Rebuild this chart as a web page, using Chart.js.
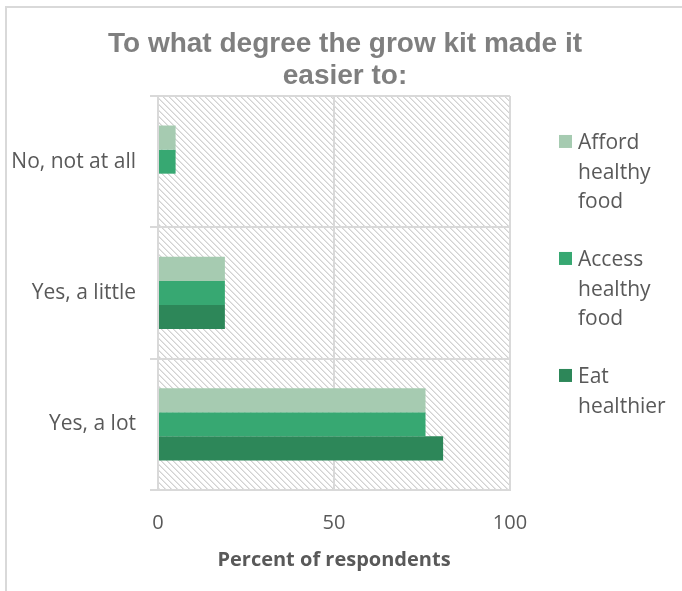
<!DOCTYPE html>
<html>
<head>
<meta charset="utf-8">
<script src="https://cdn.jsdelivr.net/npm/chart.js@4.4.1/dist/chart.umd.min.js"></script>
<style>
  html, body { margin: 0; padding: 0; background: #ffffff; }
  #frame {
    position: absolute; left: 5px; top: 6px; width: 700px; height: 600px;
    border-top: 2px solid #d9d9d9; border-left: 2px solid #d9d9d9;
  }
  #wrap { position: absolute; left: 0; top: 0; width: 682px; height: 591px; }
</style>
</head>
<body>
<div id="frame"></div>
<div id="wrap"><canvas id="growKitChart" width="682" height="591"></canvas></div>
<script>
// Survey answers -------------------------------------------------------------
const categories = ['No, not at all', 'Yes, a little', 'Yes, a lot'];
const affordHealthyFood = [5, 19, 76];
const accessHealthyFood = [5, 19, 76];
const eatHealthier = [0, 19, 81];
const seriesNames = [['Afford', 'healthy', 'food'], ['Access', 'healthy', 'food'], ['Eat', 'healthier']];
const xTicks = [0, 50, 100];

const colors = ['#a6cbb1', '#37a872', '#2d8759'];
const textGrey = '#595959';
const gridGrey = '#d9d9d9';

// Diagonal hatch for the plot background
function makeHatch() {
    var tile = document.createElement('canvas');
    tile.width = 6;
    tile.height = 6;
    var t = tile.getContext('2d');
    t.fillStyle = '#ffffff';
    t.fillRect(0, 0, 6, 6);
    for (var y = 0; y < 6; y++) {
        for (var x = 0; x < 6; x++) {
            var d = ((x - y) % 6 + 6) % 6;
            if (d === 0) { t.fillStyle = '#d2d2d2'; t.fillRect(x, y, 1, 1); }
            if (d === 1) { t.fillStyle = '#e6e6e6'; t.fillRect(x, y, 1, 1); }
        }
    }
    return tile;
}

const hatchBackground = {
    id: 'hatchBackground',
    beforeDraw(chart) {
        const a = chart.chartArea;
        const ctx = chart.ctx;
        ctx.save();
        ctx.fillStyle = ctx.createPattern(makeHatch(), 'repeat');
        ctx.fillRect(a.left, a.top, a.right - a.left, a.bottom - a.top);
        ctx.restore();
    }
};

// Legend on the right, with wrapped names
const sideLegend = {
    id: 'sideLegend',
    beforeInit(chart) {
        const box = {
            position: 'right', weight: 10, fullSize: false, options: {},
            left: 0, top: 0, right: 0, bottom: 0, width: 0, height: 0,
            update(maxWidth, maxHeight) { this.width = 172; this.height = maxHeight; },
            isHorizontal() { return false; },
            draw() {
                const ctx = chart.ctx;
                const x0 = chart.chartArea.right;
                const y0 = chart.chartArea.top;
                ctx.save();
                ctx.font = '21px "Open Sans"';
                ctx.textBaseline = 'middle';
                ctx.textAlign = 'left';
                chart.data.datasets.forEach(function(ds, i) {
                    const cy = y0 + 46 + i * 117;
                    ctx.fillStyle = ds.backgroundColor;
                    ctx.fillRect(x0 + 49, cy - 7, 13, 13);
                    ctx.fillStyle = textGrey;
                    seriesNames[i].forEach(function(line, j) {
                        ctx.fillText(line, x0 + 68, cy + 1.5 + j * 29.5);
                    });
                });
                ctx.restore();
            }
        };
        Chart.layouts.addBox(chart, box);
    }
};

const ctx_chart = document.getElementById('growKitChart').getContext('2d');

const growKitChart = new Chart(ctx_chart, {
    type: 'bar',
    data: {
        labels: categories,
        datasets: [
            { label: seriesNames[0].join(' '), data: affordHealthyFood, backgroundColor: colors[0] },
            { label: seriesNames[1].join(' '), data: accessHealthyFood, backgroundColor: colors[1] },
            { label: seriesNames[2].join(' '), data: eatHealthier, backgroundColor: colors[2] }
        ]
    },
    options: {
        indexAxis: 'y',
        responsive: false,
        animation: false,
        devicePixelRatio: 1,
        datasets: {
            bar: { categoryPercentage: 0.55, barPercentage: 1.0, borderWidth: 0 }
        },
        layout: { padding: { left: 8, right: 0, top: 0, bottom: 0 } },
        plugins: {
            legend: { display: false },
            tooltip: { enabled: false },
            title: {
                display: true,
                text: ['To what degree the grow kit made it', 'easier to:'],
                color: '#7f7f7f',
                font: { family: '"Liberation Sans", Arial, sans-serif', size: 28, weight: 'bold', lineHeight: 1.16 },
                padding: { top: 28, bottom: 3 }
            }
        },
        scales: {
            x: {
                min: 0,
                max: 100,
                afterBuildTicks(scale) {
                    scale.ticks = xTicks.map(function(v) { return { value: v }; });
                },
                afterFit(scale) { scale.height = 101; },
                grid: { color: gridGrey, lineWidth: 2, drawTicks: false },
                border: { color: gridGrey, width: 2 },
                ticks: {
                    color: textGrey,
                    padding: 21,
                    maxRotation: 0,
                    font: { family: '"Open Sans"', size: 20 }
                },
                title: {
                    display: true,
                    text: 'Percent of respondents',
                    color: textGrey,
                    font: { family: '"Open Sans"', size: 20, weight: 'bold', lineHeight: 1.2 },
                    padding: { top: 0, bottom: 19 }
                }
            },
            y: {
                afterFit(scale) { scale.width = 150; },
                grid: { color: gridGrey, lineWidth: 2, drawTicks: true, tickLength: 8 },
                border: { color: gridGrey, width: 2 },
                ticks: {
                    color: textGrey,
                    padding: 14,
                    font: { family: '"Open Sans"', size: 21 }
                }
            }
        }
    },
    plugins: [hatchBackground, sideLegend]
});
</script>
</body>
</html>
